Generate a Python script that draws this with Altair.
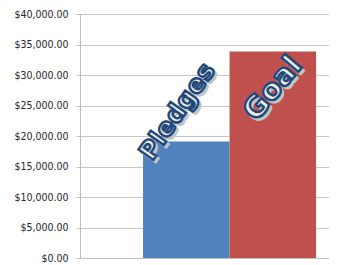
import math
import altair as alt
import pandas as pd

categories = ["Pledges", "Goal"]
values = [19100, 33870]
colors = ["#4F81BD", "#C0504D"]
y_ticks = [0, 5000, 10000, 15000, 20000, 25000, 30000, 35000, 40000]

df = pd.DataFrame({"cat": categories, "value": values, "color": colors})

x = alt.X("cat:N", sort=categories,
          scale=alt.Scale(paddingInner=0, paddingOuter=0.439, align=0.83),
          axis=alt.Axis(labels=False, ticks=False, title=None, grid=False,
                        domainColor="#BFBFBF", domainWidth=1))
y = alt.Y("value:Q", scale=alt.Scale(domain=[0, 40000], nice=False),
          axis=alt.Axis(values=y_ticks, format="$,.2f", title=None,
                        grid=True, gridColor="#C6C6C6", gridWidth=1,
                        domainColor="#BFBFBF", tickColor="#BFBFBF", tickSize=4,
                        labelPadding=8,
                        labelFont="'DejaVu Sans Condensed', 'Liberation Sans Narrow', 'Liberation Sans'",
                        labelFontSize=10.5, labelColor="#262626"))

bars = alt.Chart(df).mark_bar(stroke=None).encode(
    x=x, y=y, color=alt.Color("color:N", scale=None))


def to_frame(sx, sy, angle):
    # screen offset -> offset in the rotated text frame
    t = math.radians(angle)
    return sx * math.cos(t) + sy * math.sin(t), -sx * math.sin(t) + sy * math.cos(t)


def label(cat, angle, sx, sy, size):
    base = alt.Chart(df).transform_filter(alt.datum.cat == cat)
    dx, dy = to_frame(sx, sy, angle)
    sdx, sdy = to_frame(sx + 2.5, sy + 2.5, angle)
    shadow = base.mark_text(angle=angle, dx=sdx, dy=sdy, fontSize=size,
                            font="DejaVu Sans", fontWeight="bold",
                            fill="#C4C4C4", stroke="#C4C4C4", strokeWidth=2,
                            align="center", baseline="middle").encode(
        x=x, y=y, text="cat:N")
    main = base.mark_text(angle=angle, dx=dx, dy=dy, fontSize=size,
                          font="DejaVu Sans", fontWeight="bold",
                          fill="#EEECE1", stroke="#1F497D", strokeWidth=2.4,
                          align="center", baseline="middle").encode(
        x=x, y=y, text="cat:N")
    return shadow + main


chart = alt.layer(
    bars,
    label("Pledges", 305, -9, -30, 25),
    label("Goal", 310, 0, 37, 29),
).properties(
    width=249, height=244,
    autosize=alt.AutoSizeParams(type="none"),
    padding={"left": 72, "top": 6, "right": 0, "bottom": 5},
).configure_view(stroke=None)

chart.save("out.html", embed_options={"renderer": "svg", "actions": False})
